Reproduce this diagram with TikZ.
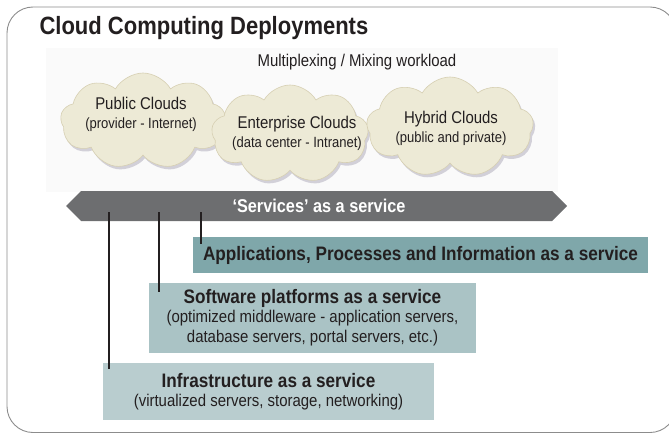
\documentclass[tikz,border=0pt]{standalone}
\usepackage{fontspec}
\setmainfont{Liberation Sans}[FakeStretch=0.88]
\usetikzlibrary{shapes.symbols,shadows}

\definecolor{framegray}{RGB}{140,140,140}
\definecolor{textdark}{RGB}{35,31,32}
\definecolor{cloudfill}{RGB}{237,234,214}
\definecolor{cloudedge}{RGB}{214,207,178}
\definecolor{shadowgray}{RGB}{150,145,165}
\definecolor{bandgray}{RGB}{109,110,112}
\definecolor{appsfill}{RGB}{127,167,170}
\definecolor{softfill}{RGB}{170,195,197}
\definecolor{infrafill}{RGB}{185,205,207}

\tikzset{
  frame/.style={draw=framegray,line width=0.9pt,rounded corners=26pt},
  cloudshape/.style={cloud,cloud puffs=9,cloud puff arc=120,fill=cloudfill,draw=cloudedge,
    line width=0.6pt,inner sep=0pt,
    drop shadow={shadow xshift=2pt,shadow yshift=-3pt,fill=shadowgray,opacity=0.4}},
  cloudtext/.style={align=center,text=textdark,font=\fontsize{17}{19}\selectfont},
  layerbox/.style={rectangle,inner sep=0pt,align=center,text=textdark,
    font=\fontsize{17}{20}\selectfont},
  link/.style={draw=textdark,line width=2pt},
}

\begin{document}
\begin{tikzpicture}[x=1pt,y=-1pt]
\useasboundingbox (0,0) rectangle (669,433);
\draw[frame] (7,7) rectangle (676,432.5);

% title
\node[anchor=base west,text=textdark,font=\fontsize{25}{28}\bfseries] (title) at (36,35) {Cloud Computing Deployments};

% deployment clouds
\fill[black!2] (46,48) rectangle (558,192);
\node[text=textdark,font=\fontsize{17}{19}\selectfont] (mix) at (357,62) {Multiplexing / Mixing workload};

\node[cloudshape,minimum width=165pt,minimum height=96pt] (pub) at (143,121) {};
\node[cloudshape,minimum width=157pt,minimum height=98pt] (ent) at (290,134) {};
\node[cloudshape,minimum width=167pt,minimum height=100pt] (hyb) at (450,127) {};

\node[cloudtext] (pubtext) at (141,114) {Public Clouds\\{\fontsize{14.8}{17}\selectfont (provider - Internet)}};
\node[cloudtext] (enttext) at (297,133) {Enterprise Clouds\\{\fontsize{14.8}{17}\selectfont (data center - Intranet)}};
\node[cloudtext] (hybtext) at (451,128) {Hybrid Clouds\\{\fontsize{14.8}{17}\selectfont (public and private)}};

% services band
\node[signal,signal to=west and east,signal pointer angle=90,fill=bandgray,inner sep=0pt,
  minimum width=501pt,minimum height=30pt,text=white,font=\fontsize{18.5}{20}\bfseries] (band) at (316.5,206) {\hspace{5pt}`Services' as a service};

% service layers
\node[layerbox,fill=appsfill,minimum width=455pt,minimum height=36pt] (apps) at (420.5,255)
  {\fontsize{19.5}{22}\bfseries Applications, Processes and Information as a service};
\node[layerbox,fill=softfill,minimum width=327pt,minimum height=70pt] (soft) at (312.5,318)
  {{\fontsize{19.5}{22}\bfseries Software platforms as a service}\\[-1pt]
   (optimized middleware - application servers,\\ database servers, portal servers, etc.)};
\node[layerbox,fill=infrafill,minimum width=331pt,minimum height=57pt] (infra) at (268.5,391.5)
  {{\fontsize{19.5}{22}\bfseries Infrastructure as a service}\\[-1pt]
   (virtualized servers, storage, networking)};

% links from the band
\coordinate (bandlow) at ([yshift=-6pt]band.center);
\coordinate (appstop) at ([xshift=8pt,yshift=-7pt]apps.north west);
\coordinate (softtop) at ([xshift=10pt,yshift=-9pt]soft.north west);
\coordinate (infratop) at ([xshift=6pt,yshift=-6pt]infra.north west);
\draw[link] (bandlow -| appstop) -- (appstop);
\draw[link] (bandlow -| softtop) -- (softtop);
\draw[link] (bandlow -| infratop) -- (infratop);
\end{tikzpicture}
\end{document}
